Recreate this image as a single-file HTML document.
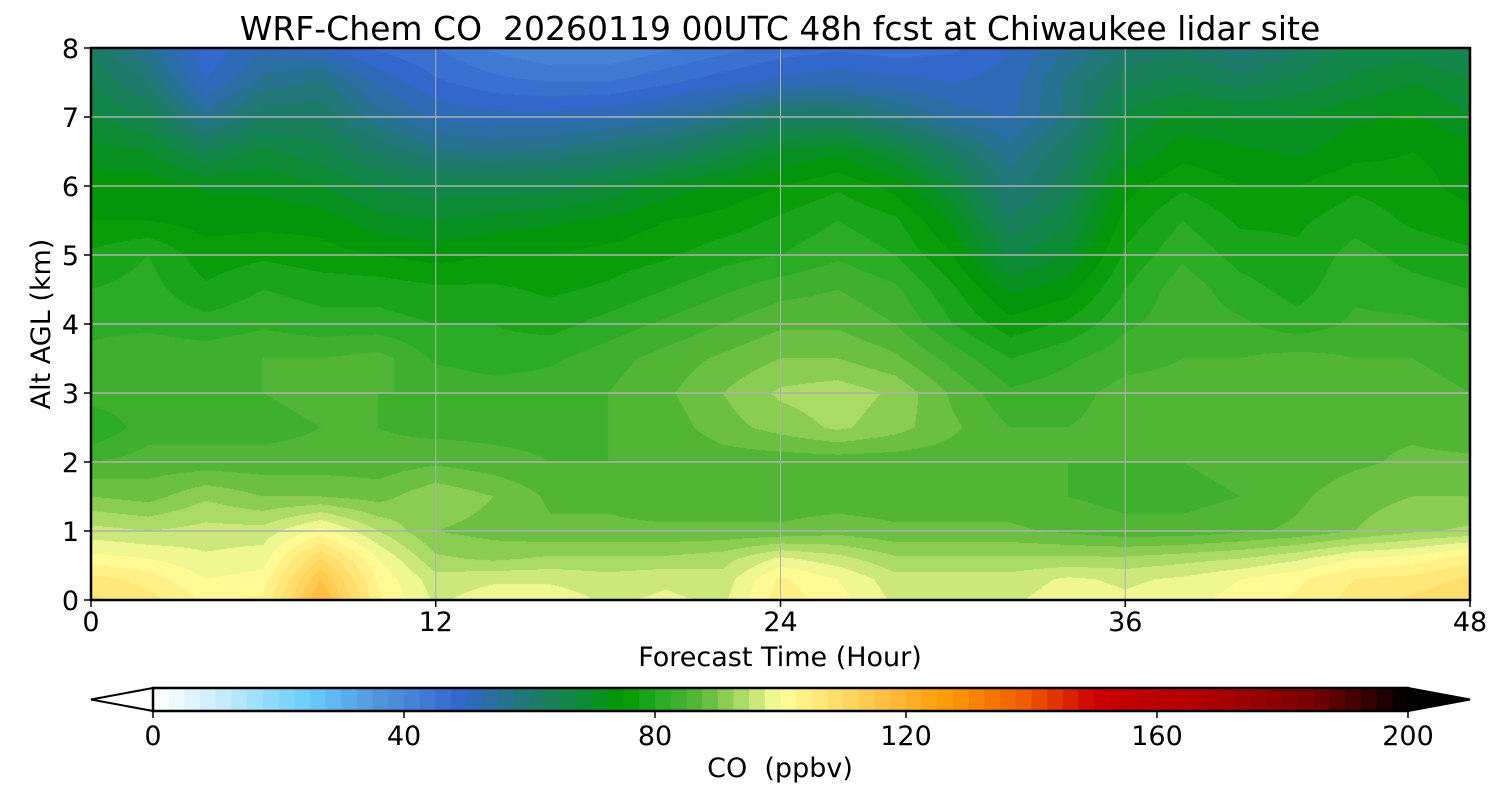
<!DOCTYPE html>
<html><head><meta charset="utf-8"><style>
body{margin:0;background:#fff;width:1500px;height:800px;overflow:hidden;font-family:"DejaVu Sans","Liberation Sans",sans-serif;}
#field{position:absolute;left:91px;top:48px;}
svg{position:absolute;left:0;top:0;}
svg text{white-space:pre;font-family:"DejaVu Sans","Liberation Sans",sans-serif;}
</style></head><body>
<canvas id="field" width="1379" height="552"></canvas>
<svg id="chart" width="1500" height="800"></svg>
<script>
const times=[0,2,4,6,8,10,12,14,16,18,20,22,24,26,28,30,32,34,36,38,40,42,44,46,48];
const alts=[0,0.3,0.6,1,1.5,2,2.5,3,3.5,4,4.5,5,5.5,6,6.5,7,7.5,8];
const co=[
[108,106,102,103,118,103,97,99,99,97,98,97,104,101,97,97,97,99,98,99,101,103,106,108,110],
[106,104,100,101,115,102,96,97,97,96,97,96,103,100,96,96,96,98,97,98,100,102,105,106,108],
[101,100,98,99,110,100,93,92,93,93,93,94,98,96,93,93,93,93,93,94,95,97,100,101,104],
[96,95,96,96,101,95,90,89,88,88,88,88,88,89,88,88,88,87,86,86,87,88,90,92,93],
[90,89,92,90,90,89,92,90,87,87,86,86,86,86,86,86,86,85,84,84,85,87,89,90,90],
[85,86,86,86,86,86,87,86,85,85,85,86,86,86,86,86,86,85,85,85,86,86,87,88,88],
[80,84,84,84,85,85,84,84,84,85,86,89,91,93,91,88,85,85,86,87,87,86,87,87,86],
[84,84,85,85,86,85,85,84,84,85,87,90,93,94,92,87,83,84,86,86,86,86,86,86,85],
[83,84,84,85,85,86,82,81,82,84,86,88,90,90,88,84,80,82,84,85,85,86,85,85,84],
[82,82,81,82,81,81,80,80,79,81,83,85,87,87,85,80,76,78,82,84,83,81,83,83,82],
[80,81,78,80,79,79,78,78,77,78,80,82,84,85,83,78,72,74,80,84,81,79,82,81,80],
[78,80,76,77,76,75,74,75,75,76,77,79,80,82,80,75,67,70,78,82,79,78,81,79,78],
[75,75,74,74,74,71,70,71,72,73,75,76,78,80,78,72,63,67,76,80,77,77,79,77,76],
[74,74,72,72,70,67,66,66,66,68,71,73,75,77,74,68,59,64,74,77,75,75,77,76,74],
[71,70,65,68,66,62,58,57,58,60,62,66,70,72,68,62,56,62,70,74,73,72,74,75,74],
[68,65,56,62,62,56,52,51,51,52,54,57,62,62,58,54,52,58,68,71,70,70,72,73,70],
[65,60,50,56,58,52,48,46,45,45,47,49,51,52,51,50,51,58,64,66,64,66,68,70,68],
[62,55,48,52,50,47,45,42,40,40,42,44,46,47,46,47,50,55,60,62,58,62,66,66,64]
];
const xTicks=[0,12,24,36,48];
const yTicks=[0,1,2,3,4,5,6,7,8];
const cbTicks=[0,40,80,120,160,200];
const anchorV=[0,10,25,35,49,59,67,75,80,87.5,92.5,97.5,100,110,120,127,140,150,170,185,200];
const anchorC=["#ffffff","#cceeff","#66ccff","#5599dd","#3366cc","#227777","#118844","#009900","#22a822","#5cb83a","#99d45a","#ddee88","#ffff99","#ffd966","#ffb030","#ff9900","#ee5500","#cc0000","#aa0000","#770000","#000000"];
const L=91,R=1470,T=48,B=600;
const xs=t=>L+(t/48)*(R-L), ys=a=>B-(a/8)*(B-T);
const hex=h=>[1,3,5].map(i=>parseInt(h.substr(i,2),16));
function cmap(v){v=Math.max(0,Math.min(200,v));for(let i=0;i<anchorV.length-1;i++){if(v<=anchorV[i+1]){const f=(v-anchorV[i])/(anchorV[i+1]-anchorV[i]);const a=hex(anchorC[i]),b=hex(anchorC[i+1]);return a.map((c,k)=>Math.round(c+(b[k]-c)*f));}}return [0,0,0];}
function levelColor(v){const q=Math.floor(v/2.5)*2.5+1.25;return cmap(q);}
function interp(arr,x){let i=0;while(i<arr.length-2&&x>arr[i+1])i++;return [i,(x-arr[i])/(arr[i+1]-arr[i])];}
const cv=document.getElementById('field'),ctx=cv.getContext('2d');
const W=cv.width,H=cv.height,img=ctx.createImageData(W,H);
for(let py=0;py<H;py++){const a=8*(1-(py+0.5)/H);const [j,fy]=interp(alts,a);
 for(let px=0;px<W;px++){const t=48*(px+0.5)/W;const [i,fx]=interp(times,t);
  const v=(co[j][i]*(1-fx)+co[j][i+1]*fx)*(1-fy)+(co[j+1][i]*(1-fx)+co[j+1][i+1]*fx)*fy;
  const c=levelColor(v);const o=(py*W+px)*4;img.data[o]=c[0];img.data[o+1]=c[1];img.data[o+2]=c[2];img.data[o+3]=255;}}
ctx.putImageData(img,0,0);
const S=document.getElementById('chart'),NS='http://www.w3.org/2000/svg';
function el(tag,attrs,txt){const e=document.createElementNS(NS,tag);for(const k in attrs)e.setAttribute(k,attrs[k]);if(txt!==undefined)e.textContent=txt;S.appendChild(e);return e;}
let e;
xTicks.forEach(t=>{e=el('line',{x1:xs(t),x2:xs(t),y1:T,y2:B,stroke:'#b0b0b0','stroke-width':1});


e=el('line',{x1:xs(t),x2:xs(t),y1:B,y2:B+7,stroke:'#000','stroke-width':1.5});


e=el('text',{x:xs(t),y:B+31,'font-size':27,'text-anchor':'middle'},t);

});
yTicks.forEach(a=>{e=el('line',{x1:L,x2:R,y1:ys(a),y2:ys(a),stroke:'#b0b0b0','stroke-width':1.5});


e=el('line',{x1:L-7,x2:L,y1:ys(a),y2:ys(a),stroke:'#000','stroke-width':1.5});


e=el('text',{x:L-12,y:ys(a)+10,'font-size':27,'text-anchor':'end'},a);

});
e=el('rect',{x:L,y:T,width:R-L,height:B-T,fill:'none',stroke:'#000','stroke-width':2.5});


e=el('text',{x:780,y:40,'font-size':33,'text-anchor':'middle'},'WRF-Chem CO  20260119 00UTC 48h fcst at Chiwaukee lidar site');


e=el('text',{x:780,y:666,'font-size':27,'text-anchor':'middle'},'Forecast Time (Hour)');


e=el('text',{x:0,y:0,'font-size':27,'text-anchor':'middle',transform:'translate(50,324) rotate(-90)'},'Alt AGL (km)');


const CL=153,CR=1408,CT=688,CB=711,cx=v=>CL+(v/200)*(CR-CL);
for(let v=0;v<200;v+=2.5){const c=cmap(v+1.25);
e=el('rect',{x:cx(v),y:CT,width:(CR-CL)/80+0.6,height:CB-CT,fill:`rgb(${c})`});

}
e=el('polygon',{points:`${CL},${CT} 91,${(CT+CB)/2} ${CL},${CB}`,fill:'#fff',stroke:'#000','stroke-width':2});


e=el('polygon',{points:`${CR},${CT} 1470,${(CT+CB)/2} ${CR},${CB}`,fill:'#000',stroke:'#000','stroke-width':2});


e=el('rect',{x:CL,y:CT,width:CR-CL,height:CB-CT,fill:'none',stroke:'#000','stroke-width':2.5});


cbTicks.forEach(v=>{e=el('line',{x1:cx(v),x2:cx(v),y1:CB,y2:CB+7,stroke:'#000','stroke-width':1.5});


e=el('text',{x:cx(v),y:CB+34,'font-size':27,'text-anchor':'middle'},v);

});
e=el('text',{x:780,y:777,'font-size':27,'text-anchor':'middle'},'CO  (ppbv)');


</script>
</body></html>
